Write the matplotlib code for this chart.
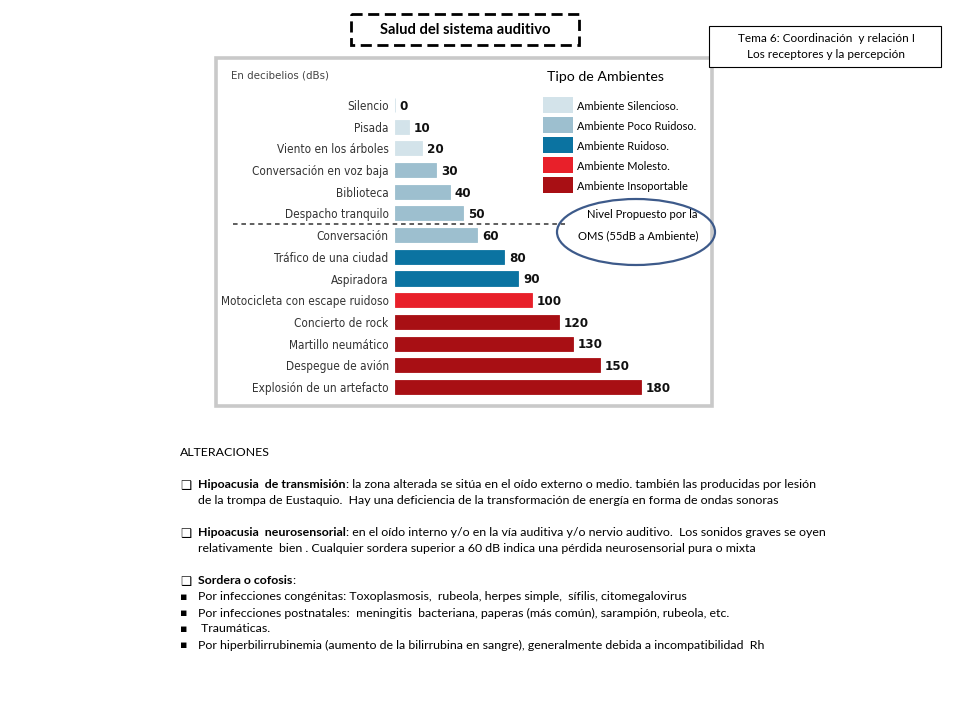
"""
Salud del sistema auditivo - niveles de ruido en decibelios
"""

import matplotlib
matplotlib.use('Agg')
import matplotlib.pyplot as plt
from matplotlib import font_manager
from matplotlib.patches import Rectangle, Ellipse

# datos del grafico
categorias = ['Silencio', 'Pisada', 'Viento en los árboles', 'Conversación en voz baja',
              'Biblioteca', 'Despacho tranquilo', 'Conversación', 'Tráfico de una ciudad',
              'Aspiradora', 'Motocicleta con escape ruidoso', 'Concierto de rock',
              'Martillo neumático', 'Despegue de avión', 'Explosión de un artefacto']
decibelios = [0, 10, 20, 30, 40, 50, 60, 80, 90, 100, 120, 130, 150, 180]
tipo_idx = [0, 0, 0, 1, 1, 1, 1, 2, 2, 3, 4, 4, 4, 4]

tipos = ['Ambiente Silencioso.', 'Ambiente Poco Ruidoso.', 'Ambiente Ruidoso.',
         'Ambiente Molesto.', 'Ambiente Insoportable']
colores_tipo = ['#d3e3ea', '#9dbfcf', '#0b73a1', '#e8202a', '#a80f14']

nivel_oms = 55

# fuentes
nombres = {f.name for f in font_manager.fontManager.ttflist}
NARROW = 'Liberation Sans Narrow' if 'Liberation Sans Narrow' in nombres else 'DejaVu Sans'
STRETCH = 'normal' if NARROW == 'Liberation Sans Narrow' else 'condensed'
TXT = ['Lato', 'DejaVu Sans']

fig = plt.figure(figsize=(9.6, 7.2), dpi=100)

# capa de la diapositiva en pixeles
bg = fig.add_axes([0, 0, 1, 1])
bg.set_xlim(0, 960)
bg.set_ylim(720, 0)
bg.axis('off')

# marco del grafico
bg.add_patch(Rectangle((216, 58), 496, 348, facecolor='white', edgecolor='#c9c9c9', lw=2.6))

# titulo
bg.add_patch(Rectangle((351, 14), 228, 31, facecolor='white', edgecolor='black', lw=2,
                       linestyle=(0, (4, 2))))
bg.text(465, 29.5, 'Salud del sistema auditivo', ha='center', va='center', fontsize=10.6,
        fontweight='bold', family=TXT)

# recuadro del tema
bg.add_patch(Rectangle((709, 26), 232, 41, facecolor='white', edgecolor='black', lw=0.8, zorder=5))
bg.text(826, 38, 'Tema 6: Coordinación  y relación I', ha='center', va='center', fontsize=8.5,
        family=TXT, zorder=6)
bg.text(826, 54, 'Los receptores y la percepción', ha='center', va='center', fontsize=8.5,
        family=TXT, zorder=6)

bg.text(231, 76, 'En decibelios (dBs)', ha='left', va='center', fontsize=8.2, color='#444444',
        family=NARROW, fontstretch=STRETCH)

# ejes de las barras: 0 dB en x=395 px, 1.367 px por dB
px_db = 1.367
fila = 21.69
x0, xmax = 395, 200
top = 105 - fila / 2
alto = fila * len(categorias)
ax = fig.add_axes([x0 / 960, 1 - (top + alto) / 720, xmax * px_db / 960, alto / 720])
ax.set_xlim(0, xmax)
ax.set_ylim(len(categorias) - 0.5, -0.5)
ax.patch.set_alpha(0)
for s in ax.spines.values():
    s.set_visible(False)
ax.set_xticks([])

ypos = list(range(len(categorias)))
colores = [colores_tipo[i] for i in tipo_idx]
ax.barh(ypos, decibelios, height=0.65, color=colores, edgecolor=colores, linewidth=0.6)
ax.set_yticks(ypos)
ax.set_yticklabels(categorias, fontsize=8.5, color='#333333', family=NARROW, fontstretch=STRETCH)
ax.tick_params(axis='y', length=0, pad=4.5)

for y, v in zip(ypos, decibelios):
    ax.annotate(str(v), xy=(v, y), xytext=(3.5, -1), textcoords='offset points',
                ha='left', va='center', fontsize=9.5, fontweight='bold', color='#111111',
                family=NARROW, fontstretch=STRETCH)

# linea del nivel propuesto por la OMS (entre 50 y 60 dB)
corte = sum(1 for v in decibelios if v < nivel_oms) - 0.5
ax.axhline(corte, xmin=(233 - x0) / (xmax * px_db), xmax=(565 - x0) / (xmax * px_db),
           color='#333333', lw=1.1, linestyle=(0, (3, 2.5)), clip_on=False)

# leyenda
bg.text(547, 77, 'Tipo de Ambientes', ha='left', va='center', fontsize=10.2, family=TXT)
for i, (t, c) in enumerate(zip(tipos, colores_tipo)):
    yc = 105 + i * 20
    bg.add_patch(Rectangle((543, yc - 8), 30, 16, facecolor=c, edgecolor='none'))
    bg.text(577, yc + 1, t, ha='left', va='center', fontsize=7.9, family=TXT)

bg.add_patch(Ellipse((636, 232), 158, 66, facecolor='none', edgecolor='#3d5a8a', lw=1.6))
bg.text(642, 215, 'Nivel Propuesto por la', ha='center', va='center', fontsize=8.1, family=TXT)
bg.text(638, 236, 'OMS (55dB a Ambiente)', ha='center', va='center', fontsize=8.1, family=TXT)

# texto de alteraciones
renderer = fig.canvas.get_renderer()
FS = 8.9


def texto_mixto(x, y, partes):
    for s, peso in partes:
        t = bg.text(x, y, s, ha='left', va='center', fontsize=FS, fontweight=peso, family=TXT)
        bb = t.get_window_extent(renderer=renderer)
        x += bb.width


bg.text(180, 453, 'ALTERACIONES', ha='left', va='center', fontsize=FS, family=TXT)

bloques = [
    (485, 'Hipoacusia  de transmisión',
     ': la zona alterada se sitúa en el oído externo o medio. también las producidas por lesión',
     'de la trompa de Eustaquio.  Hay una deficiencia de la transformación de energía en forma de ondas sonoras'),
    (533, 'Hipoacusia  neurosensorial',
     ': en el oído interno y/o en la vía auditiva y/o nervio auditivo.  Los sonidos graves se oyen',
     'relativamente  bien . Cualquier sordera superior a 60 dB indica una pérdida neurosensorial pura o mixta'),
    (581, 'Sordera o cofosis', ':', None),
]
for y, negrita, resto, segunda in bloques:
    bg.text(180, y, '❑', ha='left', va='center', fontsize=FS, family=['DejaVu Sans'])
    texto_mixto(198, y, [(negrita, 'bold'), (resto, 'normal')])
    if segunda:
        bg.text(198, y + 16, segunda, ha='left', va='center', fontsize=FS, family=TXT)

vinetas = [
    'Por infecciones congénitas: Toxoplasmosis,  rubeola, herpes simple,  sífilis, citomegalovirus',
    'Por infecciones postnatales:  meningitis  bacteriana, paperas (más común), sarampión, rubeola, etc.',
    ' Traumáticas.',
    'Por hiperbilirrubinemia (aumento de la bilirrubina en sangre), generalmente debida a incompatibilidad  Rh',
]
for i, v in enumerate(vinetas):
    y = 597 + i * 16
    bg.text(180, y, '▪', ha='left', va='center', fontsize=FS - 1, family=['DejaVu Sans'])
    bg.text(198, y, v, ha='left', va='center', fontsize=FS, family=TXT)

plt.savefig('out.png', dpi=100)
